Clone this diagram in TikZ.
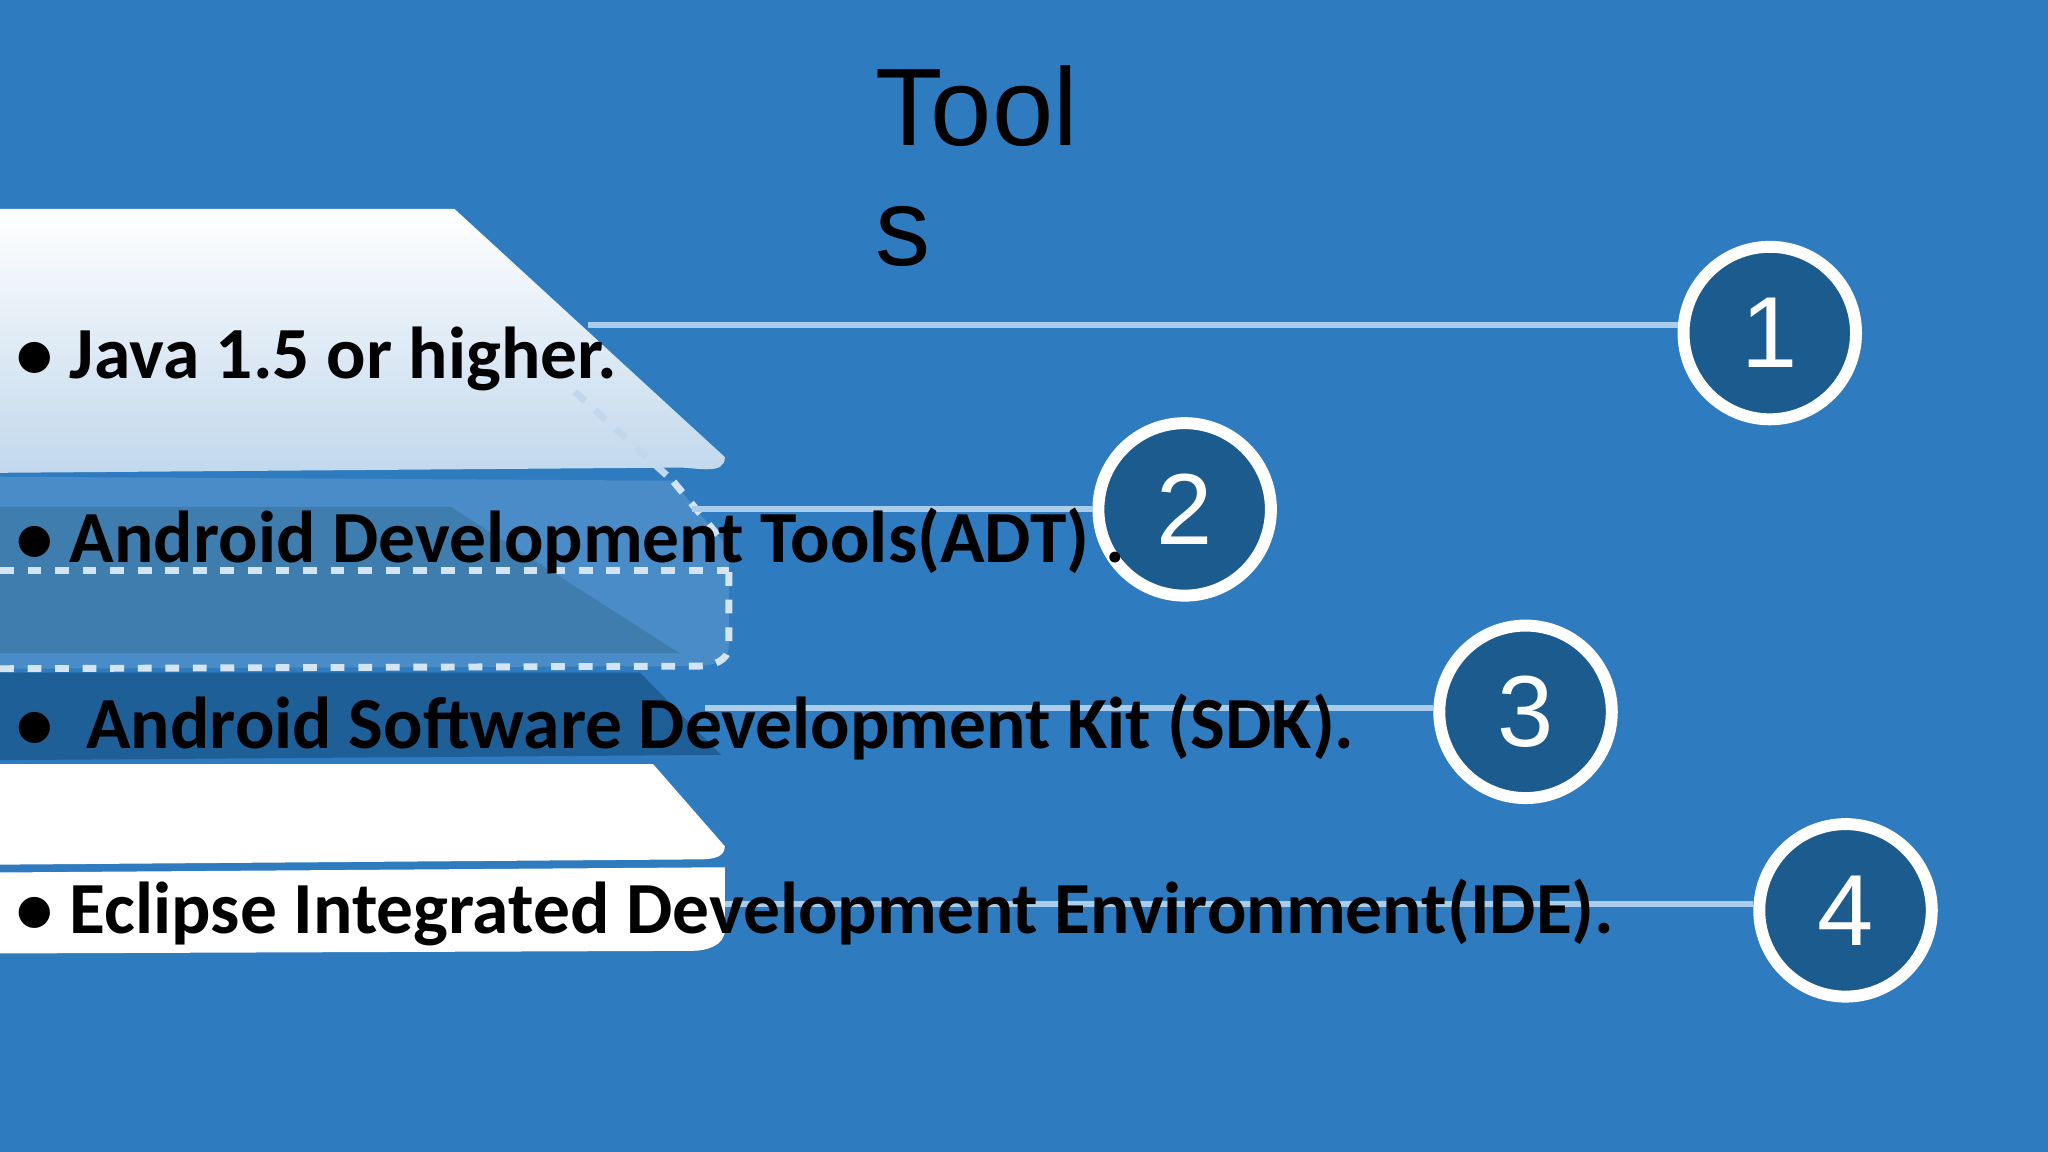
\documentclass[tikz,border=0pt]{standalone}
\usepackage{fontspec}
\setmainfont{Carlito}
\newfontfamily\titlefont{Liberation Sans}
\usetikzlibrary{shadings}
\definecolor{bg}{HTML}{2F7BC0}
\definecolor{circ}{HTML}{1B5B8E}
\definecolor{lineC}{HTML}{A9CDEB}
\definecolor{layerB}{HTML}{4A8CC8}
\definecolor{layerT}{HTML}{3E7DAE}
\definecolor{layerD}{HTML}{1E5F97}
\tikzset{
 num/.style={circle,draw=white,line width=2.6pt,fill=circ,minimum size=1.32cm,text=white,font=\titlefont\fontsize{22}{22}\selectfont},
 item/.style={anchor=base west,font=\bfseries\fontsize{16}{18}\selectfont,text=black,inner sep=0pt},
 conn/.style={lineC,line width=1.3pt}
}
\begin{document}
\begin{tikzpicture}[x=0.01cm,y=-0.01cm]
\fill[bg] (0,0) rectangle (1568,882);
\useasboundingbox (0,0) rectangle (1568,882);
% layer 2 (ADT) dashed box
\fill[layerB] (0,365) -- (515,368) -- (558,420) -- (558,495) to[out=-90,in=0] (535,510) -- (0,512) -- cycle;
\fill[layerT] (0,388) -- (345,388) -- (520,500) -- (0,500) -- cycle;
\draw[white!80!bg,dashed,line width=1.5pt] (0,437) -- (558,437);
\draw[white!80!bg,dashed,line width=1.5pt] (0,512) -- (535,510) to[out=0,in=-90] (558,495) -- (558,420) -- (515,368);
% layer 3 dark
\fill[layerD] (0,515) -- (490,515) -- (552,578) -- (0,582) -- cycle;
% layer 4 white
\fill[white] (0,585) -- (500,585) -- (555,648) to[out=-90,in=0] (530,658) -- (0,662) -- cycle;
\fill[white] (0,668) -- (555,664) -- (555,712) to[out=-90,in=0] (530,728) -- (0,730) -- cycle;
% top layer
\shade[top color=white,bottom color=white!70!bg] (0,160) -- (348,160) -- (555,350) to[out=-90,in=0] (520,358) -- (0,362) -- cycle;
\draw[white!70!bg,dashed,line width=1.5pt] (440,300) -- (515,368);
% connectors and circles
\node[num] (c1) at (1355,255) {1};
\node[num] (c2) at (907,390) {2};
\node[num] (c3) at (1168,545) {3};
\node[num] (c4) at (1413,697) {4};
\coordinate (s1) at (450,249);
\coordinate (s2) at (530,390);
\coordinate (s3) at (540,542);
\coordinate (s4) at (555,692);
\draw[conn] (s1) -- (c1.west|-s1);
\draw[conn] (s2) -- (c2.west|-s2);
\draw[conn] (s3) -- (c3.west|-s3);
\draw[conn] (s4) -- (c4.west|-s4);
% texts
\node[anchor=north west,align=left,font=\titlefont\fontsize{24}{26}\selectfont,text=black] (title) at (658,38) {Tool\\s};
\node[item] (t1) at (12,290) {\textbullet\ Java 1.5 or higher.};
\node[item] (t2) at (12,431) {\textbullet\ Android Development Tools(ADT) .};
\node[item] (t3) at (12,573) {\textbullet\ \ Android Software Development Kit (SDK).};
\node[item] (t4) at (12,715) {\textbullet\ Eclipse Integrated Development Environment(IDE).};
\end{tikzpicture}
\end{document}
